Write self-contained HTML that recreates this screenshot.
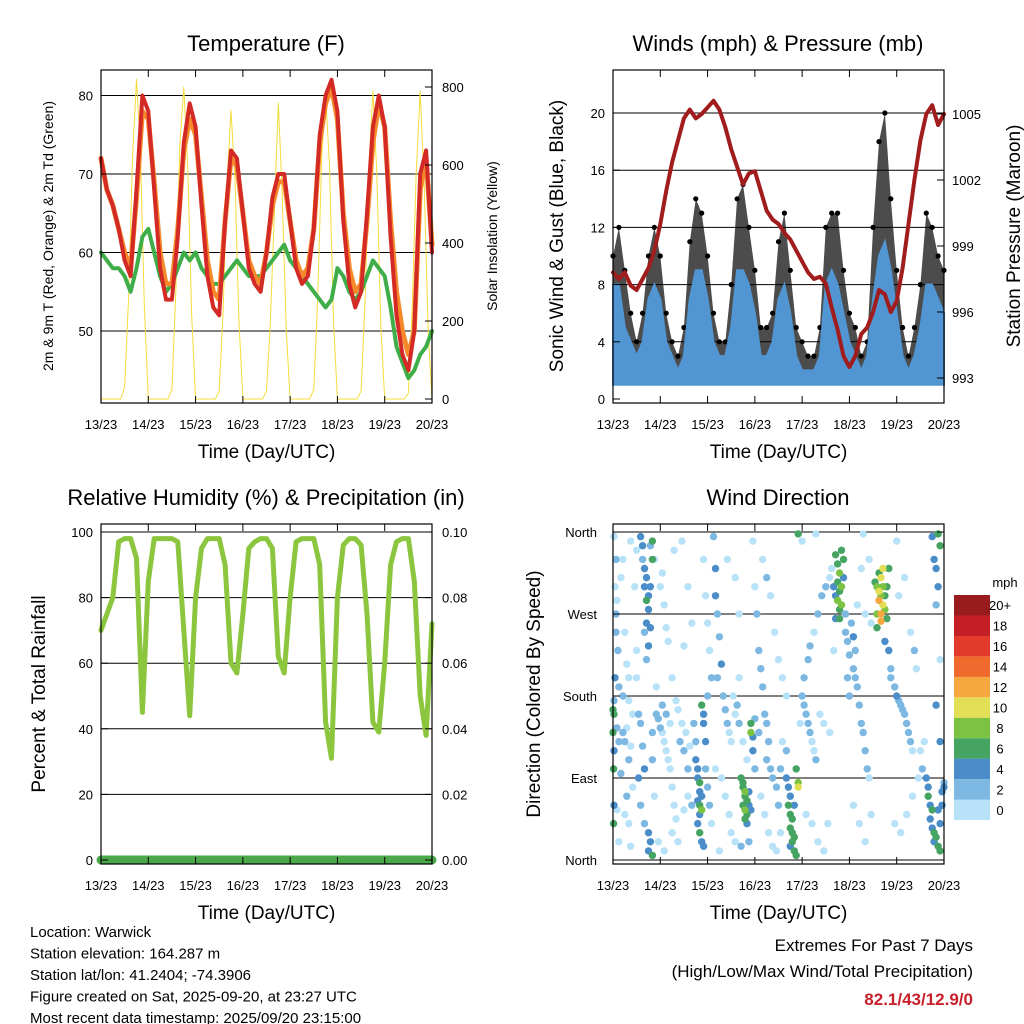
<!DOCTYPE html>
<html><head><meta charset="utf-8"><style>
html,body{margin:0;padding:0;background:#fff;}
svg{display:block;font-family:"Liberation Sans",sans-serif;}
</style></head><body>
<svg id="c" width="1024" height="1024" viewBox="0 0 1024 1024" xmlns="http://www.w3.org/2000/svg"></svg>
<script>
// ---- data (3-hourly samples from 13/23 UTC) ----
const dayLabels = ["13/23","14/23","15/23","16/23","17/23","18/23","19/23","20/23"];
const temp2m = [72,68,66,63,59,57,68,80,78,68, 58,54,54,62,74,79,76,66,57,53, 52,64,73,72,65,58,56,55,60,67, 70,70,64,58,56,57,63,75,80,82, 78,64,56,53,55,65,76,80,76,62, 52,47,45,50,70,73,60];
const temp9m = [72,68,66,63,60,58,67,78,77,69, 60,56,56,63,73,77,75,67,59,55, 54,64,72,71,65,59,57,56,60,66, 69,69,64,59,57,58,63,74,79,81, 77,65,58,55,56,64,74,79,76,64, 55,50,47,50,68,72,61];
const dewpt = [60,59,58,58,57,55,58,62,63,60, 57,55,56,58,60,59,60,58,57,56, 56,57,58,59,58,57,57,57,58,59, 60,61,59,58,57,56,55,54,53,54, 58,57,55,54,55,57,59,58,57,53, 48,46,44,45,47,48,50];
// solar insolation, 2-hourly
const solar = [0,0,0,0,0,0,30,260,620,820,640,240, 0,0,0,0,0,0,25,280,650,800,600,220, 0,0,0,0,0,0,20,230,560,740,560,200, 0,0,0,0,0,0,20,200,480,760,520,180, 0,0,0,0,0,0,25,260,620,780,600,200, 0,0,0,0,0,0,20,250,600,790,580,190, 0,0,0,0,0,0,15,240,580,790,560,180, 0];
const tempTicks = [50,60,70,80];
const solarTicks = [0,200,400,600,800];
const windHigh = [8,8,5,4,3,4,7,8, 7,4,3,2,3,7,9,9, 7,4,3,3,5,9,9,8, 6,3,3,4,7,8,6,3, 2,2,2,3,8,9,8,6, 4,3,2,3,7,10,11,9, 6,3,2,3,5,8,8,7, 6];
const gustMax = [10,12,9,6,4,6,10,12, 10,6,4,3,5,11,14,13, 10,6,4,4,8,14,15,12, 9,5,5,6,11,13,9,5, 4,3,3,5,12,13,13,9, 6,5,3,4,12,18,20,14, 9,5,3,5,8,13,12,10, 9];
const pressure = [997.8,997.5,997.8,997.2,997.0,997.5,998,998.8, 1000,1001.5,1002.8,1003.8,1004.8,1005.2,1004.8,1005.0, 1005.3,1005.6,1005.2,1004.4,1003.4,1002.6,1001.8,1002.3, 1002.4,1001.5,1000.6,1000.2,1000.0,999.6,999.3,998.8, 998.3,997.8,997.5,997.6,997.3,996.2,995.2,994.0, 993.5,994.0,995.0,995.3,996.0,997.0,996.8,996.0, 996.5,998,1000,1002,1003.8,1005,1005.4,1004.5, 1005];
const windTicks = [0,4,8,12,16,20];
const presTicks = [993,996,999,1002,1005];
const rh = [70,75,80,97,98,98,92,45, 85,98,98,98,98,97,70,44, 80,95,98,98,98,90,60,57, 75,95,97,98,98,95,62,57, 80,97,98,98,98,90,42,31, 80,96,98,98,96,75,42,39, 60,90,97,98,98,85,50,38, 72];
const precip = [0,0,0,0,0,0,0,0];
const rhTicks = [0,20,40,60,80,100];
const precipTicks = ["0.00","0.02","0.04","0.06","0.08","0.10"];
const dirTicks = ["North","East","South","West","North"];
const speedLabels = ["0","2","4","6","8","10","12","14","16","18","20+"];
const speedColors = ["#b8e2f8","#7db8e3","#4a8dc8","#46a463","#7cc243","#e2de55","#f6a840","#ef6a2c","#e23b2b","#c41f26","#981b1e"];
// wind direction observations: [hour, direction deg, speed mph]
const dirObs = [
[0.5,355,1],[1,300,1],[1.5,250,3],[1,200,5],[0.5,175,3],[0,165,7],[0.5,160,7],[0,140,7],[0.5,120,5],[0.3,100,7],[0.5,60,5],[0.3,40,7],[1.5,330,3],[2,285,1],[1.5,270,3],[2.5,230,3],[3,190,3],[2,145,3],[3,130,3],[2,55,1],[3,20,1],
[4,310,1],[5,330,1],[6,250,1],[7,215,1],[8,200,1],[5,140,3],[6,130,3],[7,145,1],[8,110,3],[9,125,1],[6,50,1],[7,70,3],[8,40,1],[9,15,1],[4,95,3],[10,80,1],[10,160,1],[9,350,1],[5,180,3],[8,175,1],
[14,355,5],[15,345,5],[15,330,3],[16,320,5],[17,310,5],[16,300,5],[18,290,5],[17,285,7],[18,275,5],[20,350,7],[20,330,7],[19,300,5],[17,260,5],[19,255,5],[16,250,3],[18,235,5],[17,220,3],[12,340,1],[11,300,1],[12,230,1],[12,200,1],[13,160,3],[14,150,3],[15,125,3],[16,100,5],[13,90,5],[14,60,3],[16,40,3],[18,30,5],[19,20,5],[18,10,5],[20,5,7],[19,345,3],[21,330,1],[20,140,3],[20,110,3],[21,70,1],[22,190,1],
[22,160,3],[23,155,3],[24,145,3],[25,140,1],[26,130,1],[27,120,1],[28,110,1],[29,100,1],[30,80,1],[31,60,1],[32,45,1],[24,300,1],[25,315,1],[26,280,1],[27,255,1],[28,240,1],[30,200,1],[32,175,1],[34,130,3],[36,120,3],[38,100,3],[25,170,3],[27,160,3],[29,150,1],[33,165,1],[35,150,1],[37,140,1],[39,125,1],[23,20,1],[26,10,1],[30,30,1],[33,20,1],[36,55,1],[38,70,1],[40,60,3],[31,340,1],[35,350,1],[38,300,1],[40,260,1],[36,235,1],
[42,110,5],[43,100,5],[43,90,5],[44,85,7],[44,75,5],[45,70,5],[43,65,5],[44,60,7],[45,55,9],[44,50,5],[43,40,5],[44,30,7],[45,20,5],[46,15,5],[45,170,7],[46,160,5],[46,150,5],[47,130,5],[42,130,3],[41,150,3],[47,100,3],[48,80,3],[49,60,3],[50,40,1],[46,330,1],[47,290,1],[48,260,1],[49,230,1],[50,200,3],[48,180,3],
[51,355,3],[52,320,5],[52,290,5],[53,270,3],[54,245,3],[55,215,5],[53,200,3],[56,180,3],[57,165,3],[58,150,3],[59,140,1],[60,130,1],[52,100,1],[55,90,1],[57,70,1],[59,50,1],[60,30,1],[62,20,1],[54,10,1],[61,180,1],[63,170,3],[62,160,1],[64,150,3],[58,330,1],[62,310,1],[64,270,1],
[65,90,7],[66,85,7],[66,80,7],[67,75,9],[67,70,7],[68,65,7],[66,60,7],[67,55,9],[68,50,7],[67,45,7],[68,40,5],[69,75,5],[69,60,5],[70,55,5],[70,150,7],[70,140,9],[71,135,5],[71,120,5],[65,15,3],[69,20,3],[72,155,3],[72,100,3],[68,110,1],[66,130,1],[64,200,1],[71,350,1],[72,300,1],[73,270,3],
[74,230,3],[75,210,3],[76,190,3],[77,160,3],[78,150,3],[79,130,3],[78,110,3],[80,100,3],[81,90,3],[83,80,3],[84,60,3],[75,70,1],[77,50,1],[79,30,1],[81,15,1],[83,10,1],[85,30,1],[76,330,1],[78,310,3],[80,290,1],[82,250,1],[84,220,1],[86,200,1],[88,180,1],[74,140,3],[86,130,1],[85,100,3],
[88,90,5],[89,80,5],[90,70,5],[89,60,7],[90,50,7],[91,45,7],[90,35,7],[91,30,7],[92,25,7],[91,20,7],[90,15,5],[92,10,7],[93,5,7],[93,100,7],[94,85,9],[94,80,11],[92,60,5],[88,120,3],[94,358,7],[95,150,1],
[96,180,3],[97,170,3],[98,160,3],[99,150,3],[100,140,3],[101,130,1],[102,120,1],[103,110,3],[97,200,3],[99,220,3],[100,235,3],[102,250,1],[104,270,3],[106,290,3],[108,300,3],[110,310,1],[111,320,1],[98,50,1],[101,40,1],[104,20,1],[107,10,1],[109,40,1],[96,350,1],[103,358,1],[105,160,1],[107,150,1],[110,140,1],[112,230,1],
[113,335,7],[114,325,7],[115,315,9],[114,305,7],[116,300,9],[115,295,7],[114,285,9],[116,280,9],[115,275,7],[113,290,5],[112,300,5],[117,310,5],[117,330,7],[116,340,7],[115,265,7],[113,265,5],[118,270,3],[118,250,3],[119,240,3],[120,225,3],[119,200,3],[120,180,3],
[121,260,3],[122,245,5],[123,230,3],[122,210,3],[123,200,3],[124,190,3],[125,170,3],[126,150,3],[127,140,3],[128,120,3],[129,100,3],[130,90,1],[124,280,1],[126,320,1],[128,270,1],[131,260,1],[122,60,1],[125,40,1],[128,20,1],[131,50,1],[127,358,1],[130,330,1],
[133,305,7],[134,300,9],[135,295,11],[136,310,11],[137,300,9],[135,285,13],[136,290,9],[137,280,11],[138,275,9],[136,270,13],[134,270,9],[138,290,7],[139,300,7],[137,320,11],[135,315,7],[139,265,7],[134,255,7],[136,262,13],[140,320,7],[138,240,5],[140,230,5],[141,210,3],[141,200,3],
[143,190,3],[144,180,5],[145,175,3],[146,170,3],[147,165,3],[148,160,3],[149,150,3],[150,140,3],[151,130,3],[152,120,1],[145,290,1],[148,310,1],[151,250,1],[153,230,3],[154,210,1],[143,40,1],[146,30,1],[149,50,1],[152,70,1],[155,90,1],[157,100,3],[156,120,1],[158,130,1],[144,350,1],
[159,90,5],[160,80,5],[160,70,7],[161,60,5],[162,55,7],[161,45,5],[162,35,5],[163,30,7],[164,25,7],[163,20,5],[165,15,7],[166,10,7],[166,40,5],[165,55,5],[167,60,5],[167,75,5],[168,80,5],[164,170,5],[166,130,5],[168,85,3],[162,355,5],[163,330,5],[164,320,5],[165,358,7],[166,345,7],[165,300,5],[164,280,3],[166,220,1]
];

// ---- helpers ----
const svg = document.getElementById('c');
const NS = "http://www.w3.org/2000/svg";
function mk(tag, attrs, parent){
  const e = document.createElementNS(NS, tag);
  for (const k in attrs) e.setAttribute(k, attrs[k]);
  (parent||svg).appendChild(e);
  return e;
}
function txt(x,y,s,size,anchor,extra,parent){
  const e = mk('text',{x:x,y:y,'font-size':size,'text-anchor':anchor||'middle',fill:'#000'},parent);
  if (extra) for (const k in extra) e.setAttribute(k, extra[k]);
  e.textContent = s;
  return e;
}
const HRS = 168;

function panel(name, L, T, R, B){
  const g = mk('g',{});
  
  
  return {g, L, T, R, B, x: t => L + t*(R-L)/HRS};
}
function frame(p, gridYs){
  gridYs.forEach(y=>{ const l=mk('line',{x1:p.L,x2:p.R,y1:y,y2:y,stroke:'#000','stroke-width':1},p.g);
      });
}
function border(p, leftTickYs, rightTickYs){
  const r = mk('rect',{x:p.L,y:p.T,width:p.R-p.L,height:p.B-p.T,fill:'none',stroke:'#000','stroke-width':1.2},p.g);
   
  dayLabels.forEach((d,i)=>{
    const x = p.x(i*24);
    mk('line',{x1:x,x2:x,y1:p.B,y2:p.B-7,stroke:'#000','stroke-width':1},p.g);
    mk('line',{x1:x,x2:x,y1:p.T,y2:p.T+7,stroke:'#000','stroke-width':1},p.g);
    const t = txt(x,p.B+26,d,13,'middle',null,p.g);
     
  });
  leftTickYs.forEach(y=>mk('line',{x1:p.L,x2:p.L+7,y1:y,y2:y,stroke:'#000'},p.g));
  rightTickYs.forEach(y=>mk('line',{x1:p.R,x2:p.R-7,y1:y,y2:y,stroke:'#000'},p.g));
  const xl = txt((p.L+p.R)/2,p.B+55,'Time (Day/UTC)',19,'middle',null,p.g);
   
}
function poly(p, pts, stroke, w, name){
  const e = mk('polyline',{points:pts.map(q=>q[0].toFixed(1)+','+q[1].toFixed(1)).join(' '),fill:'none',stroke:stroke,'stroke-width':w,'stroke-linejoin':'round','stroke-linecap':'round'},p.g);
  
  
  return e;
}

// ---- Panel 1: Temperature ----
(function(){
  const p = panel('temperature-panel',101,70,432,403);
  const yT = v => 331 - (v-50)*7.85;
  const yS = v => 399 - v*0.39;
  frame(p, tempTicks.map(yT));
  poly(p, solar.map((v,i)=>[p.x(i*2), yS(v)]), '#f5dc3c', 1, 'solar-line');
  const dots = dewpt.map((v,i)=>[p.x(i*3), yT(v)]);
  poly(p, dots, '#3fae49', 4, 'dewpoint-line');
  poly(p, temp9m.map((v,i)=>[p.x(i*3), yT(v)]), '#f68a2a', 5, 'temp-9m-line');
  poly(p, temp2m.map((v,i)=>[p.x(i*3), yT(v)]), '#d42a26', 4, 'temp-2m-line');
  border(p, tempTicks.map(yT), solarTicks.map(yS));
  tempTicks.forEach(v=>{const t=txt(93,yT(v)+5,String(v),13,'end',null,p.g);  });
  solarTicks.forEach(v=>{const t=txt(442,yS(v)+5,String(v),13,'start',null,p.g);  });
  const ti = txt(266,51,'Temperature (F)',22,'middle',null,p.g);  
  const yl = txt(0,0,'2m & 9m T (Red, Orange) & 2m Td (Green)',14,'middle',{transform:'translate(53,236) rotate(-90)'},p.g);
   
  const y2 = txt(0,0,'Solar Insolation (Yellow)',14,'middle',{transform:'translate(497,236) rotate(-90)'},p.g);
   
})();

// ---- Panel 2: Winds & Pressure ----
(function(){
  const p = panel('winds-panel',613,70,944,403);
  const yW = v => 399 - v*14.3;
  const yP = v => 114 + (1005-v)*22;
  frame(p, windTicks.filter(v=>v>0).map(yW));
  const gustPts = gustMax.map((v,i)=>[p.x(i*3), yW(v)]);
  const hiPts = windHigh.map((v,i)=>[p.x(i*3), yW(v)]);
  const gp = mk('polygon',{points:gustPts.concat(hiPts.slice().reverse()).map(q=>q[0].toFixed(1)+','+q[1].toFixed(1)).join(' '),fill:'#000','fill-opacity':0.7},p.g);
   
  gustMax.forEach((v,i)=>{
    const c = mk('circle',{cx:p.x(i*3),cy:yW(v),r:2.6,fill:'#000'},p.g);
     
  });
  const base = windHigh.map((v,i)=>[p.x(i*3), yW(1)]);
  const wp = mk('polygon',{points:hiPts.concat(base.slice().reverse()).map(q=>q[0].toFixed(1)+','+q[1].toFixed(1)).join(' '),fill:'#5196d2',stroke:'#5196d2','stroke-width':2},p.g);
   
  poly(p, pressure.map((v,i)=>[p.x(i*3), yP(v)]), '#a11d1d', 4, 'pressure-line');
  border(p, windTicks.map(yW), presTicks.map(yP));
  windTicks.forEach(v=>{const t=txt(605,yW(v)+5,String(v),13,'end',null,p.g);  });
  presTicks.forEach(v=>{const t=txt(952,yP(v)+5,String(v),13,'start',null,p.g);  });
  const ti = txt(778,51,'Winds (mph) & Pressure (mb)',22,'middle',null,p.g);  
  const yl = txt(0,0,'Sonic Wind & Gust (Blue, Black)',19,'middle',{transform:'translate(563,236) rotate(-90)'},p.g);
   
  const y2 = txt(0,0,'Station Pressure (Maroon)',19,'middle',{transform:'translate(1020,236) rotate(-90)'},p.g);
   
})();

// ---- Panel 3: RH & Precip ----
(function(){
  const p = panel('humidity-panel',101,524,432,864);
  const yR = v => 860 - v*3.28;
  frame(p, rhTicks.map(yR));
  poly(p, rh.map((v,i)=>[p.x(i*3), yR(v)]), '#8cc63f', 5, 'humidity-line');
  poly(p, precip.map((v,i)=>[p.x(i*24), 860 - v*3280]), '#4aa84a', 9, 'precip-line');
  border(p, rhTicks.map(yR), rhTicks.map(yR));
  rhTicks.forEach(v=>{const t=txt(93,yR(v)+5,String(v),13,'end',null,p.g);  });
  precipTicks.forEach((s,i)=>{const t=txt(442,yR(rhTicks[i])+5,s,13,'start',null,p.g);  });
  const ti = txt(266,505,'Relative Humidity (%) & Precipitation (in)',22,'middle',null,p.g);  
  const yl = txt(0,0,'Percent & Total Rainfall',19,'middle',{transform:'translate(45,694) rotate(-90)'},p.g);
   
})();

// ---- Panel 4: Wind Direction ----
(function(){
  const p = panel('wind-direction-panel',613,524,944,864);
  const yD = v => 860 - v*0.911;
  const tickDeg = [0,90,180,270,360];
  frame(p, tickDeg.map(yD));
  const order = dirObs.slice().sort((a,b)=>a[2]-b[2]);
  order.forEach(o=>{
    const bin = Math.min(10, Math.floor(o[2]/2));
    const c = mk('circle',{cx:p.x(o[0]).toFixed(1),cy:yD(o[1]).toFixed(1),r:3.7,fill:speedColors[bin]},p.g);
    
    
  });
  border(p, tickDeg.map(yD), tickDeg.map(yD));
  dirTicks.forEach((s,i)=>{const t=txt(597,yD(tickDeg[i])+5,s,13,'end',null,p.g);  });
  const ti = txt(778,505,'Wind Direction',22,'middle',null,p.g);  
  const yl = txt(0,0,'Direction (Colored By Speed)',19,'middle',{transform:'translate(540,694) rotate(-90)'},p.g);
   
  // colorbar
  const cb = mk('g',{});
   
  const bh = 225/11;
  speedLabels.forEach((s,i)=>{
    const y = 820 - (i+1)*bh;
    const r = mk('rect',{x:954,y:y.toFixed(1),width:36,height:bh.toFixed(1),fill:speedColors[i]},cb);
     
    const t = txt(1000,y+bh/2+5,s,13,'middle',null,cb);
     
  });
  const u = txt(1005,587,'mph',13,'middle',null,cb);
   
})();

// ---- footer text ----
const info = ["Location: Warwick","Station elevation: 164.287 m","Station lat/lon: 41.2404; -74.3906","Figure created on Sat, 2025-09-20, at 23:27 UTC","Most recent data timestamp: 2025/09/20 23:15:00"];
info.forEach((s,i)=>{
  const t = txt(30,937+i*21.5,s,15,'start');
  
  
});
const e1 = txt(973,951,'Extremes For Past 7 Days',17,'end');
 
const e2 = txt(973,977,'(High/Low/Max Wind/Total Precipitation)',17,'end');
 
const e3 = txt(973,1005,'82.1/43/12.9/0',17,'end',{fill:'#c8202a','font-weight':'bold'});
 
</script>
</body></html>
